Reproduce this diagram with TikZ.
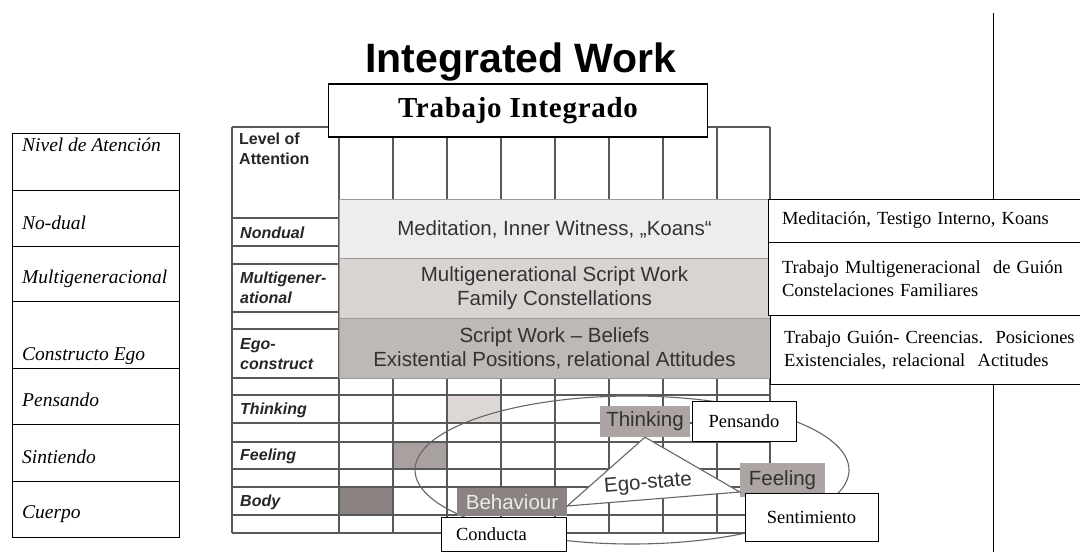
\documentclass[tikz,border=0pt]{standalone}
\usepackage{fontspec}
\setmainfont{Liberation Serif}
\setsansfont{Liberation Sans}
\definecolor{bandA}{HTML}{EFEDEC}
\definecolor{bandB}{HTML}{D9D4D2}
\definecolor{bandC}{HTML}{BEB8B6}
\definecolor{cellT}{HTML}{DDD7D5}
\definecolor{cellF}{HTML}{A9A19F}
\definecolor{cellB}{HTML}{8B8381}
\definecolor{boxG}{HTML}{ADA5A3}
\definecolor{txtG}{HTML}{333333}
\begin{document}
\begin{tikzpicture}[x=1pt,y=-1pt,
  gl/.style={draw=black!65, line width=1.1},
  band/.style={draw=black!40, line width=0.8, minimum width=431, minimum height=60, inner sep=0, align=center, text=txtG, font=\sffamily\fontsize{20.5}{24}\selectfont},
  esp/.style={draw=black, line width=1, fill=white, inner sep=0, font=\fontsize{18.5}{23}\selectfont},
  espR/.style={esp, text width=330, inner xsep=14, align=left},
  lrow/.style={draw=black, line width=1, minimum width=167, inner sep=0},
  ltxt/.style={anchor=west, inner sep=0, font=\itshape\fontsize{19.5}{22}\selectfont},
  glab/.style={font=\sffamily\bfseries\itshape\fontsize{16}{20}\selectfont, anchor=west, align=left, inner sep=0, text=black!85},
  egobox/.style={fill=boxG, inner sep=0, text=txtG, font=\sffamily\fontsize{20.5}{22}\selectfont}
]
\clip (0,0) rectangle (1080,552);
\fill[white] (0,0) rectangle (1080,552);

% ---------- left Spanish table ----------
\node[lrow, minimum height=57, anchor=north west] (l1) at (12,133) {};
\node[lrow, minimum height=56, anchor=north west] (l2) at (12,190) {};
\node[lrow, minimum height=55, anchor=north west] (l3) at (12,246) {};
\node[lrow, minimum height=67, anchor=north west] (l4) at (12,301) {};
\node[lrow, minimum height=56, anchor=north west] (l5) at (12,368) {};
\node[lrow, minimum height=57, anchor=north west] (l6) at (12,424) {};
\node[lrow, minimum height=56, anchor=north west] (l7) at (12,481) {};
\node[ltxt] (t1) at (22,145) {Nivel de Atención};
\node[ltxt] (t2) at (22,223) {No-dual};
\node[ltxt] (t3) at (22,279) {Multigeneracional};
\node[ltxt] (t4) at (22,356) {Constructo Ego};
\node[ltxt] (t5) at (22,400) {Pensando};
\node[ltxt] (t6) at (22,457) {Sintiendo};
\node[ltxt] (t7) at (22,514) {Cuerpo};

% ---------- grid ----------
\fill[cellT] (447,395) rectangle (501,423);
\fill[cellF] (393,442) rectangle (447,469);
\fill[cellB] (339,487) rectangle (393,515);
\foreach \y in {127,378,395,423,442,469,487,515,533}
  \draw[gl] (232,\y) -- (770,\y);
\foreach \y in {218,246,264,312,329}
  \draw[gl] (232,\y) -- (339,\y);
\foreach \x in {232,339,770}
  \draw[gl] (\x,127) -- (\x,533);
\foreach \x in {393,447,501,555,609,663,717}
  {\draw[gl] (\x,127) -- (\x,199);
   \draw[gl] (\x,378) -- (\x,533);}

\node[glab, anchor=north west, font=\sffamily\bfseries\fontsize{16}{20}\selectfont] (hlev) at (239,133) {Level of\\Attention};
\node[glab] (hnd) at (240,233) {Nondual};
\node[glab] (hmg) at (240,288) {Multigener-\\ational};
\node[glab] (heg) at (240,354) {Ego-\\construct};
\node[glab] (hth) at (240,410) {Thinking};
\node[glab] (hfe) at (240,456) {Feeling};
\node[glab] (hbo) at (240,502) {Body};

% ---------- bands ----------
\node[band, fill=bandA] (bA) at (554.5,229) {Meditation, Inner Witness, „Koans“};
\node[band, fill=bandB] (bB) at (554.5,288.5) {Multigenerational Script Work\\Family Constellations};
\node[band, fill=bandC] (bC) at (554.5,348) {Script Work – Beliefs\\Existential Positions, relational Attitudes};

% ---------- right Spanish boxes ----------
\node[espR, minimum height=43] (med) at (947,220.5) {Meditación, Testigo Interno, Koans};
\node[espR, minimum height=73] (mgs) at (947,278.5) {Trabajo Multigeneracional\ \ de Guión\\Constelaciones\ Familiares};
\node[espR, minimum height=69] (gui) at (949,349.5) {Trabajo Guión- Creencias.\ \ Posiciones\\Existenciales, relacional\ \ Actitudes};
\coordinate (vtop) at (993,13);
\coordinate (vbot) at (993,552);
\draw[line width=1] (vtop) -- (vtop |- med.north);
\draw[line width=1] (vbot |- gui.south) -- (vbot);

% ---------- ego-state ----------
\draw[black!60, line width=1.1] (632,470) ellipse [x radius=217, y radius=74];
\node[egobox, minimum width=90, minimum height=31] (thk) at (645,421.5) {Thinking};
\node[egobox, minimum width=85, minimum height=34] (fel) at (782.5,480) {Feeling};
\node[egobox, fill=cellB, text=black!8, minimum width=110, minimum height=28] (beh) at (512,502) {Behaviour};
\coordinate (tA) at (thk.south);
\coordinate (tB) at (beh.east |- 0,506);
\coordinate (tC) at (fel.west |- 0,492);
\filldraw[fill=white, draw=black!60, line width=1.1] (tA) -- (tB) -- (tC) -- cycle;
\node[rotate=4.6, inner sep=0, text=txtG, font=\sffamily\fontsize{20.5}{22}\selectfont] (ego) at (648,484) {Ego-state};

\node[esp, minimum width=104, minimum height=40] (pen) at (744,421.5) {Pensando};
\node[esp, minimum width=133, minimum height=48] (sen) at (811.5,517) {Sentimiento};
\node[esp, minimum width=125, minimum height=34, text width=95, inner xsep=15, align=left] (con) at (503.5,534) {Conducta};

% ---------- title ----------
\node[inner sep=0, font=\sffamily\bfseries\fontsize{41}{45}\selectfont] (title) at (521,62) {Integrated Work};
\node[esp, line width=1.1, minimum width=379, minimum height=53, font=\bfseries\fontsize{29}{31}\selectfont\addfontfeature{LetterSpace=2.5}] (tbi) at (518,110.5) {Trabajo Integrado};
\end{tikzpicture}
\end{document}
